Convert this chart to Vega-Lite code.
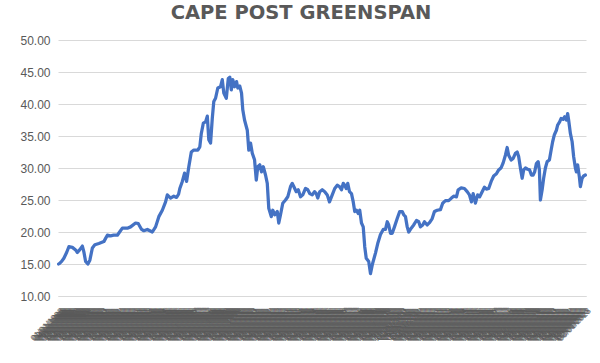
{
  "$schema": "https://vega.github.io/schema/vega-lite/v6.json",
  "width": 528,
  "height": 256,
  "autosize": {"type": "none"},
  "padding": {"left": 58, "top": 40, "right": 14, "bottom": 67},
  "background": "white",
  "title": {
    "text": "CAPE POST GREENSPAN",
    "font": "DejaVu Sans",
    "fontSize": 19.5,
    "fontWeight": "bold",
    "color": "#595959",
    "anchor": "middle",
    "frame": "group",
    "dx": -21,
    "offset": 11
  },
  "config": {
    "view": {"stroke": null},
    "font": "Liberation Sans"
  },
  "data": {
    "values": [
      {"m": 0, "cape": 15.0}, {"m": 0.8, "cape": 15.1}, {"m": 2.4, "cape": 15.4}, {"m": 4.2, "cape": 15.9},
      {"m": 6.4, "cape": 16.8}, {"m": 8.2, "cape": 17.7}, {"m": 11.0, "cape": 17.6}, {"m": 13.6, "cape": 17.2},
      {"m": 15.0, "cape": 16.8}, {"m": 16.8, "cape": 17.2}, {"m": 19.0, "cape": 17.8}, {"m": 20.2, "cape": 16.9},
      {"m": 21.6, "cape": 15.4}, {"m": 23.4, "cape": 15.0}, {"m": 25.0, "cape": 15.6}, {"m": 27.0, "cape": 17.5},
      {"m": 29.0, "cape": 18.0}, {"m": 32.2, "cape": 18.2}, {"m": 36.2, "cape": 18.5}, {"m": 37.6, "cape": 19.0},
      {"m": 39.0, "cape": 19.5}, {"m": 41.6, "cape": 19.4}, {"m": 44.0, "cape": 19.5}, {"m": 47.0, "cape": 19.5},
      {"m": 48.8, "cape": 20.0}, {"m": 51.0, "cape": 20.6}, {"m": 55.0, "cape": 20.6}, {"m": 57.6, "cape": 20.8},
      {"m": 61.6, "cape": 21.4}, {"m": 63.8, "cape": 21.3}, {"m": 66.4, "cape": 20.4}, {"m": 68.2, "cape": 20.2},
      {"m": 71.0, "cape": 20.4}, {"m": 75.0, "cape": 20.0}, {"m": 77.6, "cape": 20.8}, {"m": 80.2, "cape": 22.4},
      {"m": 83.0, "cape": 23.4}, {"m": 85.6, "cape": 24.7}, {"m": 87.0, "cape": 25.8}, {"m": 89.6, "cape": 25.3},
      {"m": 92.2, "cape": 25.6}, {"m": 94.4, "cape": 25.4}, {"m": 96.0, "cape": 25.9}, {"m": 97.0, "cape": 26.8},
      {"m": 99.0, "cape": 27.9}, {"m": 100.8, "cape": 29.2}, {"m": 102.4, "cape": 27.9}, {"m": 104.2, "cape": 30.2},
      {"m": 106.2, "cape": 32.5}, {"m": 108.2, "cape": 32.8}, {"m": 111.4, "cape": 32.8}, {"m": 113.0, "cape": 33.3},
      {"m": 114.2, "cape": 35.4}, {"m": 115.8, "cape": 37.0}, {"m": 117.6, "cape": 37.2}, {"m": 119.0, "cape": 38.1},
      {"m": 120.2, "cape": 34.4}, {"m": 121.6, "cape": 33.9}, {"m": 123.0, "cape": 37.8}, {"m": 124.2, "cape": 40.4},
      {"m": 125.6, "cape": 40.9}, {"m": 127.4, "cape": 42.5}, {"m": 129.6, "cape": 42.7}, {"m": 131.0, "cape": 43.8},
      {"m": 132.2, "cape": 41.7}, {"m": 134.2, "cape": 40.9}, {"m": 135.8, "cape": 44.0}, {"m": 137.0, "cape": 44.2},
      {"m": 138.2, "cape": 42.2}, {"m": 139.4, "cape": 43.8}, {"m": 140.8, "cape": 42.7}, {"m": 142.4, "cape": 43.5},
      {"m": 143.4, "cape": 42.5}, {"m": 145.0, "cape": 42.8}, {"m": 146.4, "cape": 41.7}, {"m": 147.4, "cape": 39.1},
      {"m": 148.8, "cape": 37.5}, {"m": 151.0, "cape": 35.9}, {"m": 152.2, "cape": 32.8}, {"m": 153.6, "cape": 33.9},
      {"m": 155.0, "cape": 32.3}, {"m": 156.8, "cape": 31.3}, {"m": 158.2, "cape": 28.1}, {"m": 159.4, "cape": 30.2},
      {"m": 161.0, "cape": 30.5}, {"m": 162.4, "cape": 29.4}, {"m": 163.8, "cape": 30.2}, {"m": 165.6, "cape": 28.9},
      {"m": 167.0, "cape": 27.6}, {"m": 168.2, "cape": 23.7}, {"m": 170.2, "cape": 22.4}, {"m": 171.4, "cape": 23.4},
      {"m": 173.0, "cape": 22.7}, {"m": 175.0, "cape": 23.2}, {"m": 176.2, "cape": 21.4}, {"m": 177.6, "cape": 22.7},
      {"m": 179.4, "cape": 24.5}, {"m": 181.6, "cape": 25.0}, {"m": 183.4, "cape": 25.5}, {"m": 185.6, "cape": 27.1},
      {"m": 187.0, "cape": 27.6}, {"m": 188.2, "cape": 27.1}, {"m": 190.2, "cape": 26.3}, {"m": 191.8, "cape": 26.6},
      {"m": 193.6, "cape": 25.5}, {"m": 195.4, "cape": 25.8}, {"m": 197.6, "cape": 26.8}, {"m": 199.4, "cape": 26.6},
      {"m": 201.0, "cape": 26.0}, {"m": 203.0, "cape": 25.8}, {"m": 204.8, "cape": 26.3}, {"m": 206.2, "cape": 26.0},
      {"m": 207.4, "cape": 25.3}, {"m": 209.0, "cape": 26.3}, {"m": 211.0, "cape": 26.6}, {"m": 213.0, "cape": 26.3},
      {"m": 215.0, "cape": 25.8}, {"m": 216.8, "cape": 24.7}, {"m": 219.0, "cape": 25.8}, {"m": 221.0, "cape": 26.8},
      {"m": 223.0, "cape": 27.3}, {"m": 224.8, "cape": 27.1}, {"m": 226.4, "cape": 26.6}, {"m": 227.8, "cape": 27.6},
      {"m": 229.0, "cape": 27.3}, {"m": 230.2, "cape": 26.8}, {"m": 231.4, "cape": 27.6}, {"m": 232.8, "cape": 26.3},
      {"m": 234.4, "cape": 26.0}, {"m": 235.8, "cape": 24.7}, {"m": 237.0, "cape": 23.2}, {"m": 238.4, "cape": 23.4},
      {"m": 239.8, "cape": 22.9}, {"m": 241.0, "cape": 23.4}, {"m": 242.4, "cape": 21.4}, {"m": 243.8, "cape": 20.8},
      {"m": 245.0, "cape": 17.7}, {"m": 246.2, "cape": 15.9}, {"m": 248.2, "cape": 15.4}, {"m": 249.6, "cape": 13.5},
      {"m": 251.2, "cape": 15.0}, {"m": 253.6, "cape": 16.7}, {"m": 255.4, "cape": 18.2}, {"m": 257.6, "cape": 19.6},
      {"m": 259.8, "cape": 20.4}, {"m": 261.6, "cape": 20.4}, {"m": 263.0, "cape": 21.6}, {"m": 264.2, "cape": 21.1},
      {"m": 265.6, "cape": 19.8}, {"m": 267.0, "cape": 19.8}, {"m": 268.8, "cape": 20.8}, {"m": 271.0, "cape": 22.1},
      {"m": 273.0, "cape": 23.2}, {"m": 275.0, "cape": 23.2}, {"m": 276.2, "cape": 22.7}, {"m": 277.6, "cape": 22.4},
      {"m": 279.0, "cape": 20.8}, {"m": 280.2, "cape": 20.0}, {"m": 282.2, "cape": 20.6}, {"m": 284.2, "cape": 21.1},
      {"m": 286.4, "cape": 21.8}, {"m": 288.2, "cape": 21.6}, {"m": 289.6, "cape": 20.8}, {"m": 291.4, "cape": 21.1},
      {"m": 292.8, "cape": 21.6}, {"m": 295.0, "cape": 21.1}, {"m": 297.0, "cape": 21.5}, {"m": 299.0, "cape": 22.1},
      {"m": 300.8, "cape": 23.2}, {"m": 303.0, "cape": 23.4}, {"m": 305.6, "cape": 23.5}, {"m": 307.4, "cape": 24.5},
      {"m": 309.6, "cape": 24.9}, {"m": 312.2, "cape": 24.9}, {"m": 314.4, "cape": 25.3}, {"m": 316.2, "cape": 25.6},
      {"m": 318.4, "cape": 25.5}, {"m": 319.8, "cape": 26.6}, {"m": 322.2, "cape": 26.9}, {"m": 324.8, "cape": 26.8},
      {"m": 327.0, "cape": 26.3}, {"m": 328.8, "cape": 25.8}, {"m": 330.4, "cape": 24.7}, {"m": 331.8, "cape": 26.0},
      {"m": 333.6, "cape": 24.5}, {"m": 335.4, "cape": 25.8}, {"m": 337.0, "cape": 25.5}, {"m": 339.0, "cape": 26.3},
      {"m": 340.8, "cape": 27.0}, {"m": 342.4, "cape": 26.7}, {"m": 344.2, "cape": 26.8}, {"m": 346.2, "cape": 27.9},
      {"m": 348.2, "cape": 28.75}, {"m": 350.4, "cape": 29.1}, {"m": 352.2, "cape": 29.7}, {"m": 354.2, "cape": 30.05},
      {"m": 355.8, "cape": 30.8}, {"m": 357.6, "cape": 32.0}, {"m": 359.0, "cape": 33.2}, {"m": 360.2, "cape": 32.0},
      {"m": 362.2, "cape": 31.25}, {"m": 363.8, "cape": 31.5}, {"m": 365.6, "cape": 32.3}, {"m": 367.0, "cape": 32.5},
      {"m": 368.2, "cape": 31.8}, {"m": 369.6, "cape": 30.0}, {"m": 371.0, "cape": 28.4}, {"m": 372.2, "cape": 29.7},
      {"m": 373.6, "cape": 30.0}, {"m": 375.4, "cape": 29.8}, {"m": 377.0, "cape": 29.7}, {"m": 378.4, "cape": 28.9},
      {"m": 379.8, "cape": 28.9}, {"m": 381.0, "cape": 29.4}, {"m": 382.4, "cape": 30.7}, {"m": 383.8, "cape": 31.0},
      {"m": 384.8, "cape": 29.7}, {"m": 385.6, "cape": 25.0}, {"m": 387.0, "cape": 26.6}, {"m": 388.2, "cape": 28.4},
      {"m": 389.6, "cape": 30.0}, {"m": 391.0, "cape": 31.0}, {"m": 392.8, "cape": 31.25}, {"m": 394.2, "cape": 32.8},
      {"m": 395.4, "cape": 34.1}, {"m": 396.8, "cape": 35.2}, {"m": 398.4, "cape": 35.9}, {"m": 399.4, "cape": 36.7},
      {"m": 401.0, "cape": 37.2}, {"m": 402.2, "cape": 37.75}, {"m": 403.8, "cape": 37.6}, {"m": 405.0, "cape": 38.0},
      {"m": 406.4, "cape": 37.5}, {"m": 407.4, "cape": 38.5}, {"m": 408.2, "cape": 37.5}, {"m": 409.6, "cape": 35.4},
      {"m": 411.0, "cape": 34.1}, {"m": 412.2, "cape": 31.8}, {"m": 413.6, "cape": 30.0}, {"m": 414.4, "cape": 29.4},
      {"m": 415.4, "cape": 30.5}, {"m": 416.8, "cape": 28.6}, {"m": 417.6, "cape": 27.1}, {"m": 419.0, "cape": 28.4},
      {"m": 420.2, "cape": 28.75}, {"m": 421.6, "cape": 28.9}
    ]
  },
  "mark": {
    "type": "line",
    "color": "#4472C4",
    "strokeWidth": 3.25,
    "strokeJoin": "round",
    "strokeCap": "round",
    "clip": false
  },
  "encoding": {
    "x": {
      "field": "m",
      "type": "quantitative",
      "scale": {"domain": [-0.5, 422.1], "nice": false, "zero": false},
      "axis": {
        "title": null,
        "grid": false,
        "ticks": false,
        "domain": true,
        "domainColor": "#d9d9d9",
        "domainWidth": 1,
        "tickCount": 423,
        "labelExpr": "timeFormat(datetime(1988, datum.value, 1), '%m/%d/%Y')",
        "labelAngle": -45,
        "labelFontSize": 8.5,
        "labelColor": "#595959",
        "labelOverlap": false,
        "labelBound": false,
        "labelFlush": false,
        "labelPadding": 10
      }
    },
    "y": {
      "field": "cape",
      "type": "quantitative",
      "scale": {"domain": [10, 50], "nice": false, "zero": false},
      "axis": {
        "title": null,
        "values": [10, 15, 20, 25, 30, 35, 40, 45, 50],
        "format": ".2f",
        "domain": false,
        "ticks": false,
        "grid": true,
        "gridColor": "#d9d9d9",
        "gridWidth": 1,
        "labelFontSize": 12,
        "labelColor": "#595959",
        "labelPadding": 8
      }
    }
  }
}
